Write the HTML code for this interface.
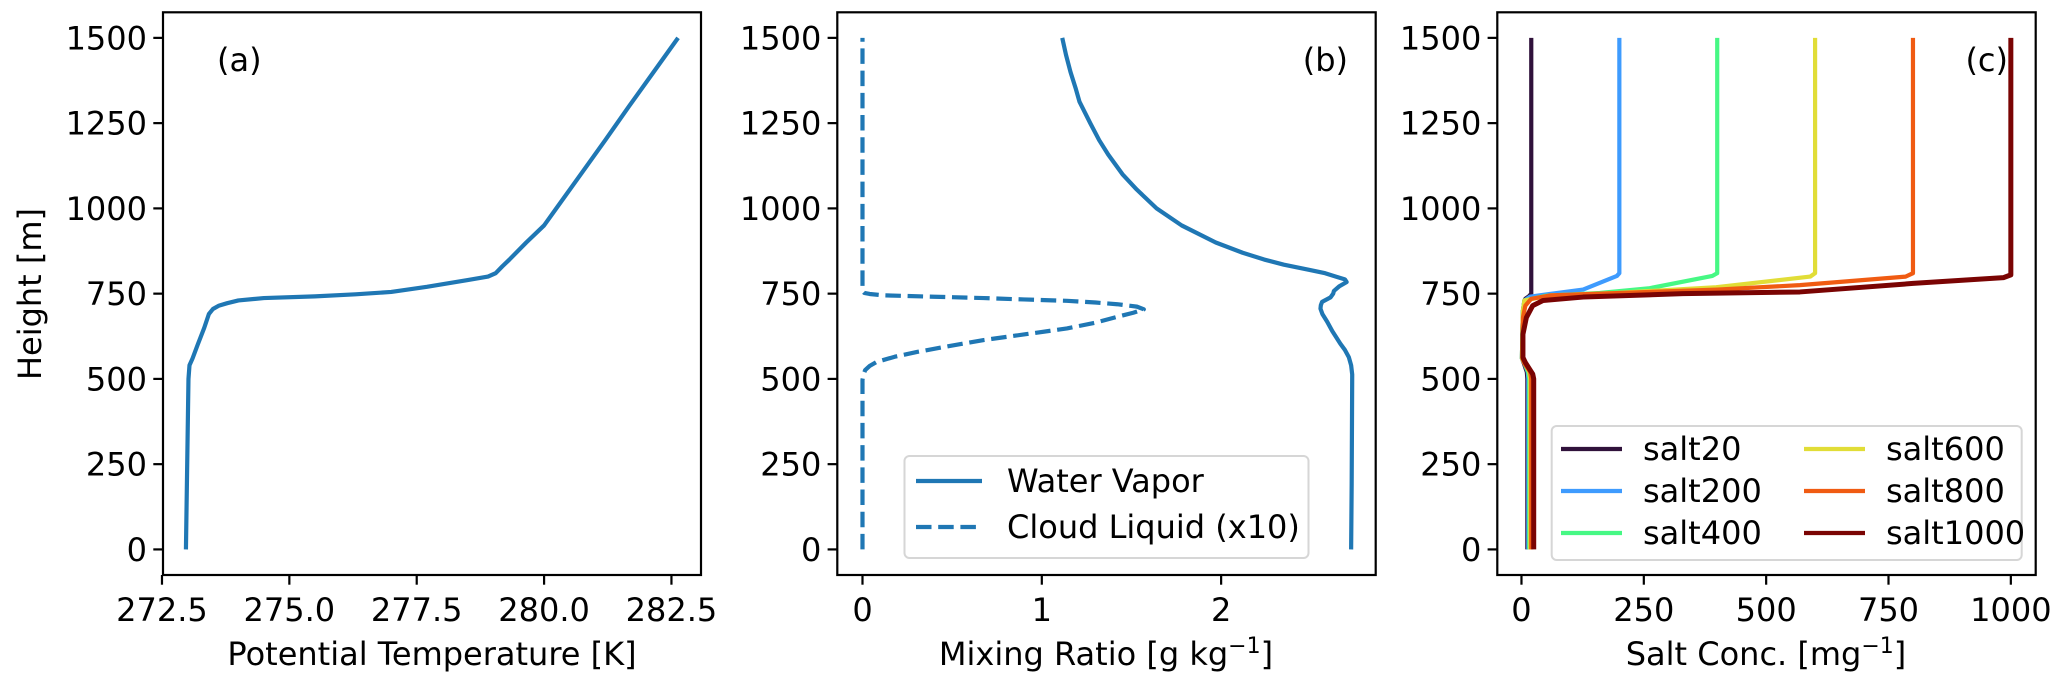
<!DOCTYPE html>
<html><head><meta charset="utf-8"><style>
html,body{margin:0;padding:0;background:#fff;}
svg{display:block;font-family:"DejaVu Sans","Liberation Sans",sans-serif;}
</style></head><body>
<svg id="fig" width="2067" height="687" viewBox="0 0 2067 687" xmlns="http://www.w3.org/2000/svg"></svg>
<script>
// ---------- data ----------
const yTicks = [0, 250, 500, 750, 1000, 1250, 1500];
const aTicks = [272.5, 275.0, 277.5, 280.0, 282.5];
const bTicks = [0, 1, 2];
const cTicks = [0, 250, 500, 750, 1000];

const thetaZ = [0,500,540,560,600,650,690,705,715,722,730,737,742,748,755,770,790,800,810,830,850,900,950,1000,1100,1200,1300,1400,1500];
const thetaV = [272.97,273.02,273.04,273.1,273.2,273.33,273.42,273.5,273.62,273.78,274.0,274.5,275.5,276.3,277.0,277.7,278.5,278.9,279.05,279.18,279.32,279.65,280.0,280.24,280.72,281.2,281.67,282.15,282.63];

const vapZ = [0,190,513,540,564,585,603,640,668,690,706,716,726,739,750,758,772,784,792,800,810,820,835,850,870,900,950,1000,1055,1100,1158,1200,1250,1313,1350,1400,1450,1500];
const vapV = [2.725,2.728,2.731,2.725,2.712,2.69,2.665,2.62,2.591,2.565,2.554,2.556,2.563,2.61,2.625,2.629,2.66,2.7,2.69,2.64,2.58,2.49,2.35,2.24,2.12,1.97,1.78,1.64,1.53,1.45,1.37,1.32,1.27,1.21,1.19,1.16,1.135,1.114];

const cldZ = [0,497,512,526,538,550,565,579,596,614,631,648,665,682,694,704,712,719,724,729,733,737,741,745,749,752,756,760,1500];
const cldV = [0,0,0.005,0.015,0.04,0.08,0.18,0.304,0.48,0.676,0.91,1.14,1.3,1.42,1.51,1.569,1.53,1.42,1.3,1.14,0.9,0.676,0.4,0.12,0.04,0.01,0.003,0,0];

const saltNames = ["salt20","salt200","salt400","salt600","salt800","salt1000"];
const saltColors = ["#30123b","#3e9bfe","#46f884","#e1dd37","#f05b12","#7a0403"];
const saltZ = [
  [0,500,520,545,560,650,700,730,735,742,750,1500],
  [0,500,520,545,560,650,700,730,741,749,762,802,810,1500],
  [0,500,520,545,560,650,700,730,744,752,766,802,810,1500],
  [0,500,520,545,560,650,700,730,745,752,769,800,810,1500],
  [0,500,520,545,560,600,680,715,735,745,752,762,775,800,810,1500],
  [0,500,514,548,563,631,680,715,730,740,750,755,780,797,805,1500]
];
const saltV = [
  [12,12,11,5,1,2,3,6,8,15,20,20],
  [14,14,13,6,1,2,3,6,17,58,126,195,200,200],
  [16,16,14,6,1,2,3,6,50,160,262,390,400,400],
  [18,18,16,7,1,2,3,6,60,194,398,590,600,600],
  [20,20,18,6,2,2,3,8,20,60,200,400,569,785,800,800],
  [25,25,23,8,3,3,10,23,44,126,330,569,800,985,1000,1000]
];

// ---------- helpers ----------
const NS = "http://www.w3.org/2000/svg";
const svg = document.getElementById("fig");
function mk(tag, attrs, parent, text) {
  const e = document.createElementNS(NS, tag);
  for (const k in attrs) e.setAttribute(k, attrs[k]);
  if (text !== undefined) e.textContent = text;
  (parent || svg).appendChild(e);
  return e;
}
const TOP = 12.3, BOT = 575;
const FS = 32;
function yScale(z) { return BOT - (z + 75) * (BOT - TOP) / 1650; }

const panels = [
  { key: "a", left: 163, right: 701, xmin: 272.52, xmax: 283.08, ticks: aTicks, fmt: v => v.toFixed(1) },
  { key: "b", left: 837.3, right: 1375.7, xmin: -0.1405, xmax: 2.862, ticks: bTicks, fmt: v => String(v) },
  { key: "c", left: 1497.3, right: 2035.7, xmin: -49.4, xmax: 1050.8, ticks: cTicks, fmt: v => String(v) }
];
panels.forEach(p => { p.x = v => p.left + (v - p.xmin) * (p.right - p.left) / (p.xmax - p.xmin); });

function linePath(p, xs, zs) {
  return xs.map((v, i) => (i ? "L" : "M") + p.x(v).toFixed(2) + "," + yScale(zs[i]).toFixed(2)).join(" ");
}

// ---------- axes ----------
panels.forEach(p => {
  const g = mk("g", {});
  
  
  p.g = g;
  yTicks.forEach(t => {
    const y = yScale(t);
    const tk = mk("line", { x1: p.left - 9.7, x2: p.left, y1: y, y2: y, stroke: "#000", "stroke-width": 2.2 }, g);
    
    
    const lb = mk("text", { x: p.left - 16, y: y + 11.5, "text-anchor": "end", "font-size": FS, fill: "#000" }, g, String(t));
    
    
  });
  p.ticks.forEach(t => {
    const x = p.x(t);
    const tk = mk("line", { x1: x, x2: x, y1: BOT, y2: BOT + 9.7, stroke: "#000", "stroke-width": 2.2 }, g);
    
    
    const lb = mk("text", { x: x, y: 621, "text-anchor": "middle", "font-size": FS, fill: "#000" }, g, p.fmt(t));
    
    
  });
});

// ---------- panel a ----------
{
  const p = panels[0];
  const l = mk("path", { d: linePath(p, thetaV, thetaZ), fill: "none", stroke: "#1f77b4", "stroke-width": 4.2, "stroke-linejoin": "round" }, p.g);
  
  
}
// ---------- panel b ----------
{
  const p = panels[1];
  const l1 = mk("path", { d: linePath(p, vapV, vapZ), fill: "none", stroke: "#1f77b4", "stroke-width": 4.2, "stroke-linejoin": "round" }, p.g);
  
  
  const l2 = mk("path", { d: linePath(p, cldV, cldZ), fill: "none", stroke: "#1f77b4", "stroke-width": 4.2, "stroke-dasharray": "15.5,6.7", "stroke-linejoin": "round" }, p.g);
  
  
}
// ---------- panel c ----------
{
  const p = panels[2];
  saltNames.forEach((n, i) => {
    const l = mk("path", { d: linePath(p, saltV[i], saltZ[i]), fill: "none", stroke: saltColors[i], "stroke-width": i === 5 ? 5 : 4.2, "stroke-linejoin": "round" }, p.g);
    
    
  });
}

// ---------- frames ----------
panels.forEach(p => {
  const r = mk("rect", { x: p.left, y: TOP, width: p.right - p.left, height: BOT - TOP, fill: "none", stroke: "#000", "stroke-width": 2.2 }, p.g);
  
  
});
</script>
<svg style="position:absolute;left:0;top:0" width="2067" height="687" viewBox="0 0 2067 687" font-family="DejaVu Sans, Liberation Sans, sans-serif">
  <text x="217" y="71" font-size="32">(a)</text>
  <text x="1348" y="71" font-size="32" text-anchor="end">(b)</text>
  <text x="2008" y="71" font-size="32" text-anchor="end">(c)</text>
  <text x="432" y="665" font-size="32" text-anchor="middle">Potential Temperature [K]</text>
  <text x="1106" y="665" font-size="32" text-anchor="middle">Mixing Ratio [g kg<tspan font-size="22" dy="-12">−1</tspan><tspan dy="12">]</tspan></text>
  <text x="1766" y="665" font-size="32" text-anchor="middle">Salt Conc. [mg<tspan font-size="22" dy="-12">−1</tspan><tspan dy="12">]</tspan></text>
  <text transform="translate(41,294) rotate(-90)" font-size="32" text-anchor="middle">Height [m]</text>
  <g>
    <rect x="904.5" y="456" width="404" height="102" rx="5" fill="#fff" fill-opacity="0.8" stroke="#d6d6d6" stroke-width="2"/>
    <line x1="916" y1="481" x2="982" y2="481" stroke="#1f77b4" stroke-width="4.2"/>
    <text x="1007" y="492" font-size="32">Water Vapor</text>
    <line x1="916" y1="527" x2="982" y2="527" stroke="#1f77b4" stroke-width="4.2" stroke-dasharray="15.5,6.7"/>
    <text x="1007" y="538" font-size="32">Cloud Liquid (x10)</text>
  </g>
  <g>
    <rect x="1551.7" y="426" width="470" height="134" rx="5" fill="#fff" fill-opacity="0.8" stroke="#d6d6d6" stroke-width="2"/>
    <line x1="1561" y1="449" x2="1622" y2="449" stroke="#30123b" stroke-width="4.2"/>
    <text x="1643" y="460" font-size="32">salt20</text>
    <line x1="1561" y1="491" x2="1622" y2="491" stroke="#3e9bfe" stroke-width="4.2"/>
    <text x="1643" y="502" font-size="32">salt200</text>
    <line x1="1561" y1="533" x2="1622" y2="533" stroke="#46f884" stroke-width="4.2"/>
    <text x="1643" y="544" font-size="32">salt400</text>
    <line x1="1804" y1="449" x2="1865" y2="449" stroke="#e1dd37" stroke-width="4.2"/>
    <text x="1886" y="460" font-size="32">salt600</text>
    <line x1="1804" y1="491" x2="1865" y2="491" stroke="#f05b12" stroke-width="4.2"/>
    <text x="1886" y="502" font-size="32">salt800</text>
    <line x1="1804" y1="533" x2="1865" y2="533" stroke="#7a0403" stroke-width="4.2"/>
    <text x="1886" y="544" font-size="32">salt1000</text>
  </g>
</svg>
</body></html>
